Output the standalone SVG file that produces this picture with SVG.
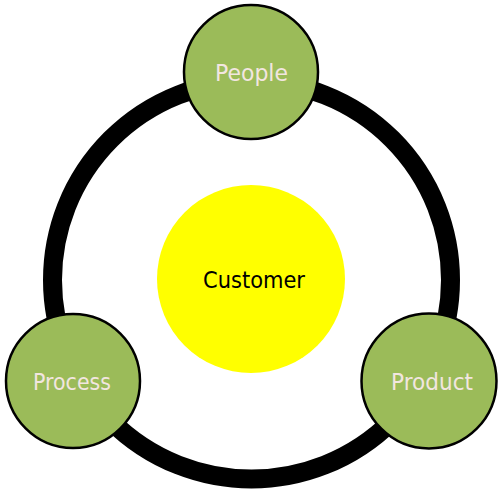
<svg xmlns="http://www.w3.org/2000/svg" width="501" height="492" viewBox="0 0 501 492">
<style>
.node{fill:#9BBB59;stroke:#000;stroke-width:2.5}
.lbl{font-family:"DejaVu Sans",sans-serif;font-size:23px;fill:#F2E6E0;text-anchor:middle}
.ring{fill:none;stroke:#000;stroke-width:19}
</style>
<rect width="501" height="492" fill="#fff"/>
<g id="connectors">
<circle class="ring" cx="251.5" cy="280" r="199"/>
</g>
<g id="customer">
<circle cx="251" cy="279" r="94" fill="#FFFF00"/>
<text x="254" y="288" class="lbl" style="fill:#000" textLength="102" lengthAdjust="spacingAndGlyphs">Customer</text>
</g>
<g id="people">
<circle class="node" cx="251" cy="72" r="67"/>
<text x="251.5" y="80.5" class="lbl" textLength="73" lengthAdjust="spacingAndGlyphs">People</text>
</g>
<g id="process">
<circle class="node" cx="73" cy="381" r="67"/>
<text x="72" y="389.5" class="lbl" textLength="78" lengthAdjust="spacingAndGlyphs">Process</text>
</g>
<g id="product">
<circle class="node" cx="429" cy="381" r="67.5"/>
<text x="432" y="389.5" class="lbl" textLength="82" lengthAdjust="spacingAndGlyphs">Product</text>
</g>
</svg>
